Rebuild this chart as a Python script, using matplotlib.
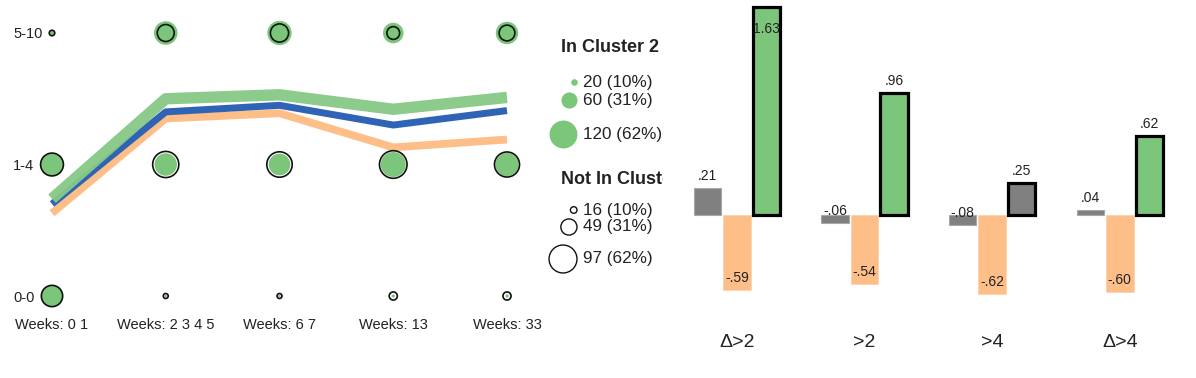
import matplotlib
matplotlib.use("Agg")
import matplotlib.pyplot as plt
import numpy as np

# ---------------- data ----------------
weeks = ["Weeks: 0 1", "Weeks: 2 3 4 5", "Weeks: 6 7", "Weeks: 13", "Weeks: 33"]
rows = ["0-0", "1-4", "5-10"]
# share (%) of each group falling in a cell
in_pct_00 = [45, 3, 3, 4, 4]
in_pct_14 = [47, 47, 45, 54, 49]
in_pct_510 = [8, 50, 52, 42, 47]
out_pct_00 = [44, 7, 7, 13, 13]
out_pct_14 = [48, 57, 55, 61, 54]
out_pct_510 = [8, 33, 36, 23, 30]
# trend lines (in row units)
green_line = [0.74, 1.50, 1.53, 1.42, 1.51]
blue_line = [0.70, 1.40, 1.45, 1.30, 1.41]
orange_line = [0.63, 1.35, 1.39, 1.13, 1.19]

legend_in_title = "In Cluster 2"
legend_in_labels = ["20 (10%)", "60 (31%)", "120 (62%)"]
legend_in_pct = [10, 31, 62]
legend_out_title = "Not In Cluster 2"
legend_out_labels = ["16 (10%)", "49 (31%)", "97 (62%)"]
legend_out_pct = [10, 31, 62]

bar_cats = ["Δ>2", ">2", ">4", "Δ>4"]
bar_gray = [0.21, -0.06, -0.08, 0.04]
bar_orange = [-0.59, -0.54, -0.62, -0.60]
bar_third = [1.63, 0.96, 0.25, 0.62]
third_is_green = [True, True, False, True]

# ---------------- style ----------------
plt.rcParams["font.family"] = ["Liberation Sans", "DejaVu Sans"]
GREEN = "#7CC67C"
GREEN_LINE = "#86C986"
BLUE = "#2F63B5"
ORANGE = "#FDBF87"
GRAY = "#808080"
TXT = "#222222"

W, H = 1196, 378
fig = plt.figure(figsize=(W / 100, H / 100), dpi=100)


def frac(l, t, r, b):
    return [l / W, 1 - b / H, (r - l) / W, (b - t) / H]


def msize(pct):
    r_px = 0.536 * np.power(np.asarray(pct, float), 0.79)
    return (2 * r_px * 0.72) ** 2


# ---------------- left bubble panel ----------------
ax = fig.add_axes(frac(44, 10, 530, 310))
colx = 113.75
rowy = 131.5
ax.set_xlim((44 - 52) / colx, (530 - 52) / colx)
ax.set_ylim((296 - 310) / rowy, (296 - 10) / rowy)
x = np.arange(len(weeks))

ax.plot(x, orange_line, color=ORANGE, lw=5.6, solid_capstyle="butt",
        solid_joinstyle="round", zorder=1)
ax.plot(x, blue_line, color=BLUE, lw=5.0, solid_capstyle="butt",
        solid_joinstyle="round", zorder=2)
ax.plot(x, green_line, color=GREEN_LINE, lw=8.2, solid_capstyle="butt",
        solid_joinstyle="round", zorder=3, alpha=0.95)

in_rows = [in_pct_00, in_pct_14, in_pct_510]
out_rows = [out_pct_00, out_pct_14, out_pct_510]
for ri in range(3):
    ax.scatter(x, np.full(len(x), ri), s=msize(in_rows[ri]), color=GREEN,
               linewidths=0, zorder=4, clip_on=False)
    ax.scatter(x, np.full(len(x), ri), s=msize(out_rows[ri]), facecolors="none",
               edgecolors="#111111", linewidths=1.2, zorder=5, clip_on=False)

ax.set_xticks(x)
ax.set_xticklabels(weeks, fontsize=10.5, color=TXT)
ax.set_yticks(range(3))
ax.set_yticklabels(rows, fontsize=10.5, color=TXT)
ax.tick_params(axis="both", length=0)
ax.tick_params(axis="x", pad=6)
ax.tick_params(axis="y", pad=22.3)
for lbl in ax.get_yticklabels():
    lbl.set_ha("left")
for s in ax.spines.values():
    s.set_visible(False)
ax.set_facecolor("none")

# ---------------- legend ----------------
lax = fig.add_axes(frac(540, 0, 663, 310))
lax.set_xlim(540, 663)
lax.set_ylim(310, 0)
lax.axis("off")
right_edge = 577
lax.text(561, 47, legend_in_title, fontsize=13, fontweight="bold", color=TXT,
         va="center", ha="left", clip_on=True)
lax.text(561, 180, legend_out_title, fontsize=13, fontweight="bold", color=TXT,
         va="center", ha="left", clip_on=True)
in_y = [82, 100, 134]
out_y = [210, 227, 259]
for p, lab, yy in zip(legend_in_pct, legend_in_labels, in_y):
    r = 0.536 * p ** 0.79
    lax.scatter([right_edge - r], [yy], s=msize([p]), color=GREEN, linewidths=0,
                clip_on=False)
    lax.text(583, yy, lab, fontsize=12.3, color=TXT, va="center", ha="left")
for p, lab, yy in zip(legend_out_pct, legend_out_labels, out_y):
    r = 0.536 * p ** 0.79
    lax.scatter([right_edge - r], [yy], s=msize([p]), facecolors="none",
                edgecolors="#111111", linewidths=1.0, clip_on=False)
    lax.text(583, yy, lab, fontsize=12.3, color=TXT, va="center", ha="left")

# ---------------- right bar panel ----------------
bx = fig.add_axes(frac(680, 2, 1196, 320))
unit = 127.6
bx.set_xlim((680 - 737) / unit, (1196 - 737) / unit)
bx.set_ylim(-(320 - 215) / unit, (215 - 2) / unit)
g = np.arange(len(bar_cats))
step = 29.5 / unit
bw = 27.5 / unit

b1 = bx.bar(g - step, bar_gray, width=bw, color=GRAY, edgecolor="#a8a8a8",
            linewidth=0.8, zorder=2)
b2 = bx.bar(g, bar_orange, width=bw, color=ORANGE, edgecolor="#fdd3ae",
            linewidth=0.6, zorder=2)
third_colors = [GREEN if t else GRAY for t in third_is_green]
b3 = bx.bar(g + step, bar_third, width=bw, color=third_colors, edgecolor="black",
            linewidth=2.3, zorder=3)


def fmt(v):
    s = f"{v:.2f}"
    if s.startswith("0."):
        s = s[1:]
    elif s.startswith("-0."):
        s = "-" + s[2:]
    return s


top_lim = bx.get_ylim()[1]
for bars, vals in ((b1, bar_gray), (b2, bar_orange), (b3, bar_third)):
    for rect, v in zip(bars, vals):
        cx = rect.get_x() + rect.get_width() / 2
        if v >= 0:
            if v > top_lim - 0.15:
                bx.annotate(fmt(v), (cx, v), xytext=(0, -11), textcoords="offset points",
                            ha="center", va="top", fontsize=10, color=TXT, zorder=5)
            else:
                bx.annotate(fmt(v), (cx, v), xytext=(0, 3.5), textcoords="offset points",
                            ha="center", va="bottom", fontsize=10, color=TXT, zorder=5)
        else:
            bx.annotate(fmt(v), (cx, v), xytext=(0, 3.5), textcoords="offset points",
                        ha="center", va="bottom", fontsize=10, color=TXT, zorder=5)

bx.set_xticks(g)
bx.set_xticklabels(bar_cats, fontsize=14, color=TXT)
bx.tick_params(axis="x", length=0, pad=10)
bx.set_yticks([])
for s in bx.spines.values():
    s.set_visible(False)
bx.set_facecolor("none")

fig.savefig("out.png", dpi=100)
